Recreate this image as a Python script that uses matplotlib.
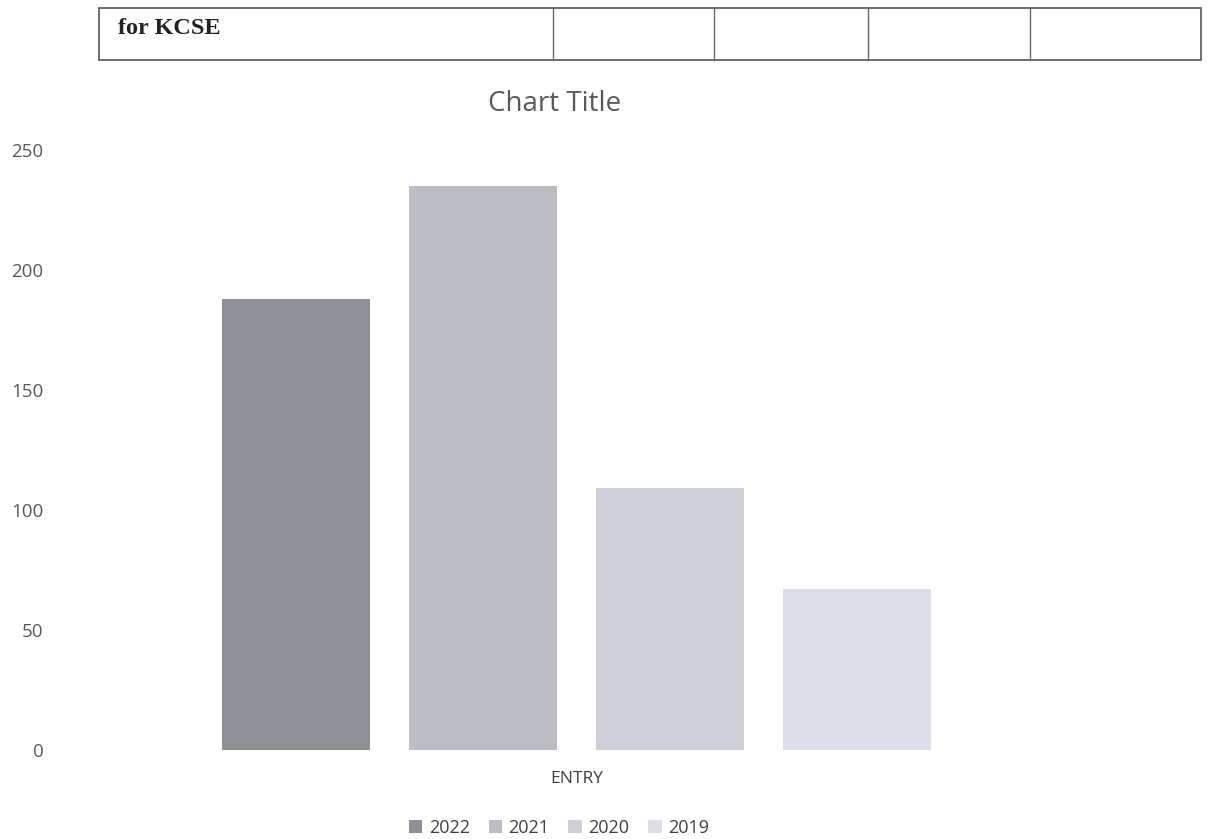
# Clustered column chart: KCSE entry by year

import matplotlib.pyplot as plt
import numpy as np

# Data
years = ["2022", "2021", "2020", "2019"]
entry = [188, 235, 109, 67]
colours = ["#8f8f96", "#bcbcc4", "#cfcfd9", "#dddde7"]
y_ticks = [0, 50, 100, 150, 200, 250]
category = "ENTRY"

W, H = 1208, 839
fig = plt.figure(figsize=(W / 100, H / 100), dpi=100)

# Table strip at the top of the page
tab = fig.add_axes([0, 0, 1, 1])
tab.set_xlim(0, W)
tab.set_ylim(H, 0)
tab.axis("off")
tab.add_patch(plt.Rectangle((99, 8), 1102, 52, fill=False, edgecolor="#555555", lw=1.2))
for xv in [553, 714, 868, 1030]:
    tab.plot([xv, xv], [8, 60], color="#666666", lw=1)
tab.text(118, 28, "for KCSE", family="Liberation Serif", weight="bold", fontsize=17.5,
         va="center", ha="left", color="#222222")

# Chart area
left, right, top, bottom = 70, 1090, 150, 750
ax = fig.add_axes([left / W, 1 - bottom / H, (right - left) / W, (bottom - top) / H])
x = np.arange(len(years))
for i in range(len(years)):
    ax.bar(x[i], entry[i], width=0.79, color=colours[i], label=years[i])

ax.set_ylim(0, 250)
ax.set_xlim(-1.209, 4.246)
ax.set_yticks(y_ticks)
ax.set_xticks([1.5])
ax.set_xticklabels([category])
for s in ax.spines.values():
    s.set_visible(False)
ax.tick_params(axis="y", length=0, pad=19, labelsize=13.5, labelcolor="#595959")
ax.tick_params(axis="x", length=0, pad=15, labelsize=12.5, labelcolor="#404040")
for t in ax.get_yticklabels() + ax.get_xticklabels():
    t.set_family("Open Sans")

fig.text(555 / W, 1 - 104 / H, "Chart Title", ha="center", va="center",
         fontsize=20, color="#595959", family="Open Sans")

leg = fig.legend(loc="center", bbox_to_anchor=(559 / W, 1 - 828 / H), ncol=4,
                 frameon=False, handlelength=0.75, handleheight=0.75,
                 handletextpad=0.35, columnspacing=1.05,
                 prop={"family": "Open Sans", "size": 13})
for t in leg.get_texts():
    t.set_color("#404040")

fig.savefig("out.png", dpi=100)
